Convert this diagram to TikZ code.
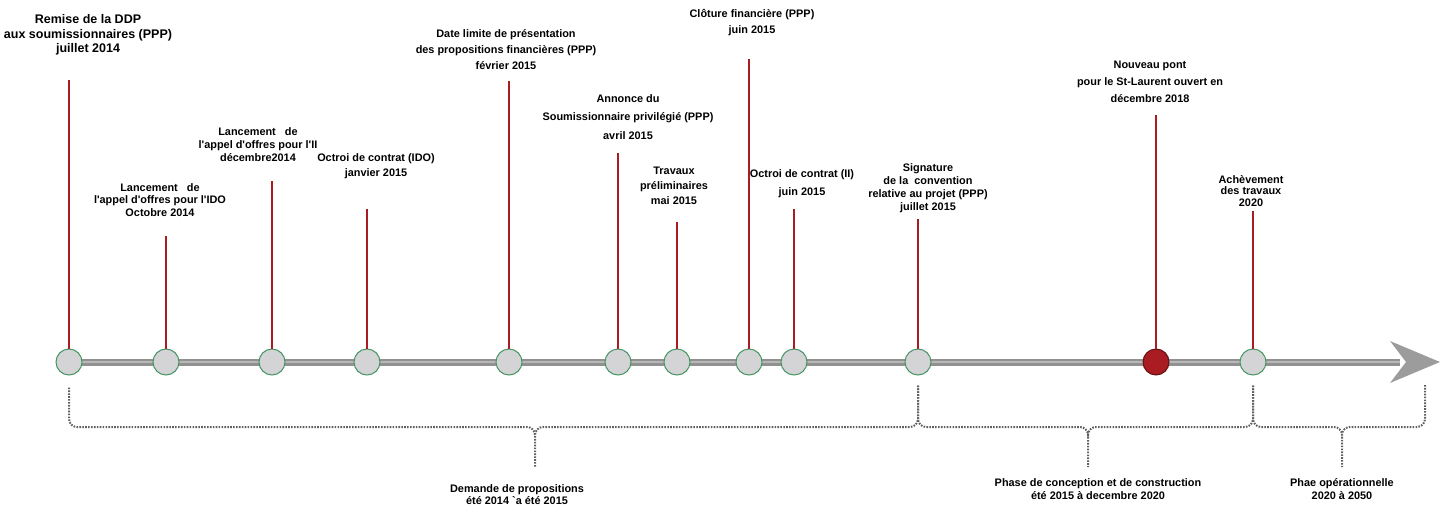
\documentclass[tikz,border=0pt]{standalone}
\usepackage{fontspec}
\setmainfont{Liberation Sans}[Ligatures=TeXOff]
\usepackage{tikz}
\usetikzlibrary{calc}
\definecolor{stemred}{RGB}{168,28,34}
\definecolor{ringgreen}{RGB}{70,150,100}
\definecolor{dotgray}{RGB}{212,212,214}
\definecolor{axisgray}{RGB}{145,145,145}
\definecolor{bracegray}{RGB}{95,95,95}

\begin{document}
\begin{tikzpicture}[x=1pt, y=-1pt,
  every node/.style={font=\fontsize{10.9}{13}\selectfont\bfseries, align=center, inner sep=0pt},
  milestone/.style={circle, draw=ringgreen, fill=dotgray, line width=1pt, minimum size=26pt},
  keystone/.style={circle, draw=stemred!60!black, fill=stemred, line width=1pt, minimum size=26pt},
  stem/.style={draw=stemred, line width=2.6pt},
  phase/.style={draw=bracegray, line width=2pt, dash pattern=on 1.6pt off 1.3pt, rounded corners=8pt}]
  \useasboundingbox (0,0) rectangle (1440,508);
  % axis
  \coordinate (start) at (69,362);
  \coordinate (end) at (1440,362);
  \draw[axisgray, line width=7pt] (start) -- ($(end)+(-40,0)$);
  \draw[axisgray!65, line width=2pt] (start) -- ($(end)+(-40,0)$);
  \fill[axisgray!90] (end) -- ++(-50,-21) -- ++(16,21) -- ++(-16,21) -- cycle;
  % milestones
  \foreach \n/\x/\t/\s in {1/69/80/milestone, 2/166/236/milestone, 3/272/181/milestone,
      4/367/209/milestone, 5/509/81/milestone, 6/618/153/milestone, 7/677/222/milestone,
      8/749/59/milestone, 9/794/209/milestone, 10/918/219/milestone,
      11/1156/115/keystone, 12/1253/211/milestone}{
    \coordinate (top\n) at (\x,\t);
    \node[\s] (m\n) at (\x,362) {};
    \draw[stem] (top\n) -- (m\n);
  }
  % labels
  \node[font=\fontsize{12.5}{14.5}\selectfont\bfseries] (lbl1) at (88,35) {Remise de la DDP\\aux soumissionnaires (PPP)\\juillet 2014};
  \node[font=\fontsize{10.9}{12.5}\selectfont\bfseries] (lbl2) at (160,200) {Lancement~~~de\\l'appel d'offres pour l'IDO\\Octobre 2014};
  \node (lbl3) at (258,145) {Lancement~~~de\\l'appel d'offres pour l'II\\décembre2014};
  \node[font=\fontsize{10.9}{15}\selectfont\bfseries] (lbl4) at (376,166) {Octroi de contrat (IDO)\\janvier 2015};
  \node[font=\fontsize{10.9}{16}\selectfont\bfseries] (lbl5) at (506,50) {Date limite de présentation\\des propositions financières (PPP)\\février 2015};
  \node[font=\fontsize{10.9}{18.5}\selectfont\bfseries] (lbl6) at (628,117) {Annonce du\\Soumissionnaire privilégié (PPP)\\avril 2015};
  \node[font=\fontsize{10.9}{15}\selectfont\bfseries] (lbl7) at (674,186) {Travaux\\préliminaires\\mai 2015};
  \node[font=\fontsize{10.9}{16}\selectfont\bfseries] (lbl8) at (752,23) {Clôture financière (PPP)\\juin 2015};
  \node[font=\fontsize{10.9}{18}\selectfont\bfseries] (lbl9) at (802,184) {Octroi de contrat (II)\\juin 2015};
  \node (lbl10) at (928,188) {Signature\\de la~~convention\\relative au projet (PPP)\\juillet 2015};
  \node[font=\fontsize{10.9}{17}\selectfont\bfseries] (lbl11) at (1150,82) {Nouveau pont\\pour le St-Laurent ouvert en\\décembre 2018};
  \node[font=\fontsize{10.9}{11.5}\selectfont\bfseries] (lbl12) at (1251,191) {Achèvement\\des travaux\\2020};
  % phases
  \draw[phase] ($(m1.south)+(0,12)$) |- (535,427) -- (535,467)
    ($(m10.south)+(0,10)$) |- (535,427) -- (535,437);
  \draw[phase] ($(m10.south)+(0,10)$) |- (1088,427) -- (1088,467)
    ($(m12.south)+(0,10)$) |- (1088,427) -- (1088,437);
  \draw[phase] ($(m12.south)+(0,10)$) |- (1342,427) -- (1342,467)
    (1425,385) |- (1342,427) -- (1342,437);
  \node[font=\fontsize{10.9}{12}\selectfont\bfseries] (ph1) at (517,495) {Demande de propositions\\été 2014 `a été 2015};
  \node (ph2) at (1098,489) {Phase de conception et de construction\\été 2015 à decembre 2020};
  \node (ph3) at (1342,489) {Phae opérationnelle\\2020 à 2050};
\end{tikzpicture}
\end{document}
